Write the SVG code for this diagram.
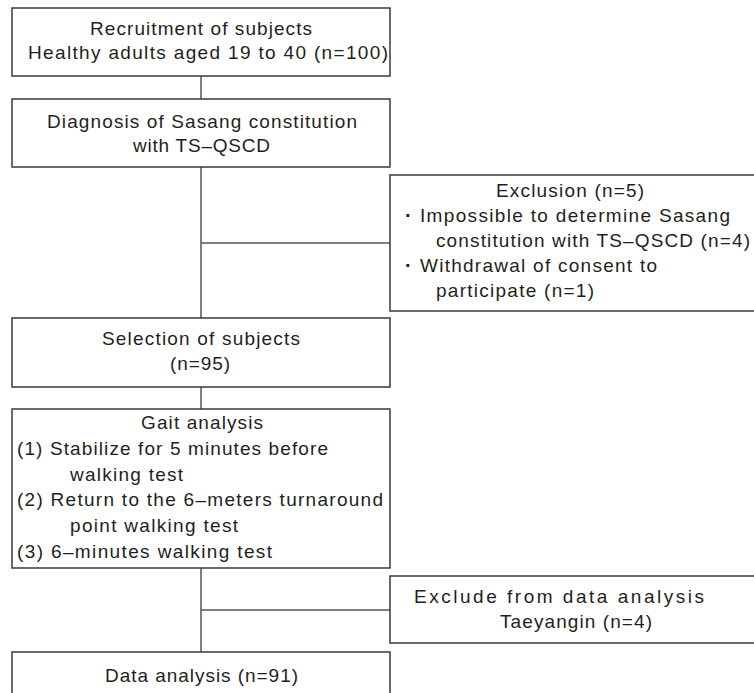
<svg xmlns="http://www.w3.org/2000/svg" width="754" height="693" viewBox="0 0 754 693">
<style>
.box{fill:#ffffff;stroke:#3a3a3a;stroke-width:1.5}
.ln{fill:none;stroke:#555555;stroke-width:1.5}
text{font-family:"Liberation Sans",Arial,sans-serif;font-size:19px;fill:#231f20}
.bul{font-weight:bold;font-size:20px}
</style>
<rect x="0" y="0" width="754" height="693" fill="#ffffff"/>
<g id="connectors">
<line class="ln" x1="201" y1="76" x2="201" y2="99"/>
<line class="ln" x1="201" y1="167" x2="201" y2="318"/>
<line class="ln" x1="201" y1="243" x2="390" y2="243"/>
<line class="ln" x1="201" y1="387" x2="201" y2="409"/>
<line class="ln" x1="201" y1="568" x2="201" y2="652"/>
<line class="ln" x1="201" y1="610" x2="390" y2="610"/>
</g>
<g id="recruitment">
<rect class="box" x="12" y="8" width="378" height="68"/>
<text x="90" y="34.5" textLength="222" lengthAdjust="spacing">Recruitment of subjects</text>
<text x="28" y="58.5" textLength="360" lengthAdjust="spacing">Healthy adults aged 19 to 40 (n=100)</text>
</g>
<g id="diagnosis">
<rect class="box" x="12" y="99" width="378" height="68"/>
<text x="47" y="128" textLength="310" lengthAdjust="spacing">Diagnosis of Sasang constitution</text>
<text x="133" y="152" textLength="137" lengthAdjust="spacing">with TS–QSCD</text>
</g>
<g id="exclusion">
<rect class="box" x="390" y="175" width="380" height="136"/>
<text x="496" y="197" textLength="148" lengthAdjust="spacing">Exclusion (n=5)</text>
<text class="bul" x="405" y="222">·</text>
<text x="420" y="222" textLength="310" lengthAdjust="spacing">Impossible to determine Sasang</text>
<text x="436" y="247" textLength="314" lengthAdjust="spacing">constitution with TS–QSCD (n=4)</text>
<text class="bul" x="405" y="272">·</text>
<text x="420" y="272" textLength="237" lengthAdjust="spacing">Withdrawal of consent to</text>
<text x="436" y="297" textLength="158" lengthAdjust="spacing">participate (n=1)</text>
</g>
<g id="selection">
<rect class="box" x="12" y="318" width="378" height="69"/>
<text x="102" y="345" textLength="198" lengthAdjust="spacing">Selection of subjects</text>
<text x="170" y="370" textLength="60" lengthAdjust="spacing">(n=95)</text>
</g>
<g id="gait">
<rect class="box" x="12" y="409" width="378" height="159"/>
<text x="141" y="429" textLength="122" lengthAdjust="spacing">Gait analysis</text>
<text x="17" y="455" textLength="311" lengthAdjust="spacing">(1) Stabilize for 5 minutes before</text>
<text x="70" y="480.5" textLength="113" lengthAdjust="spacing">walking test</text>
<text x="17" y="506" textLength="366" lengthAdjust="spacing">(2) Return to the 6–meters turnaround</text>
<text x="70" y="532" textLength="168" lengthAdjust="spacing">point walking test</text>
<text x="17" y="558" textLength="255" lengthAdjust="spacing">(3) 6–minutes walking test</text>
</g>
<g id="exclude-analysis">
<rect class="box" x="390" y="576" width="380" height="67"/>
<text x="414" y="602.5" textLength="290" lengthAdjust="spacing">Exclude from data analysis</text>
<text x="500" y="628" textLength="152" lengthAdjust="spacing">Taeyangin (n=4)</text>
</g>
<g id="data-analysis">
<rect class="box" x="12" y="652" width="378" height="60"/>
<text x="105" y="682" textLength="193" lengthAdjust="spacing">Data analysis (n=91)</text>
</g>
</svg>
